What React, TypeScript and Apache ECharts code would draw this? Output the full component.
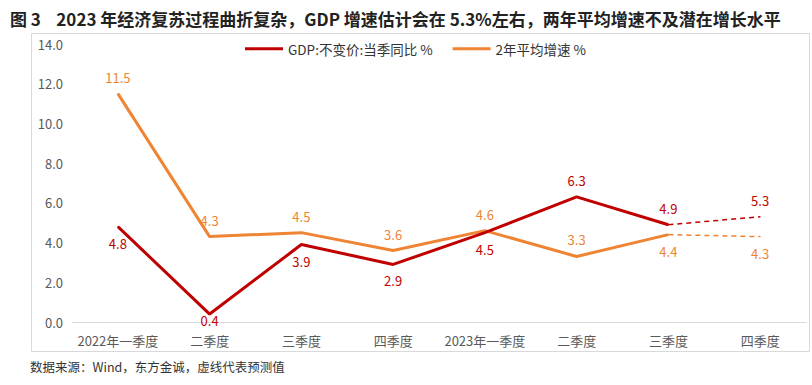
import React, { useEffect, useRef } from "react";
import * as echarts from "echarts";

const categories = ["2022年一季度", "二季度", "三季度", "四季度", "2023年一季度", "二季度", "三季度", "四季度"];
const gdpValues = [4.8, 0.4, 3.9, 2.9, 4.5, 6.3, 4.9, 5.3];
const avgValues = [11.5, 4.3, 4.5, 3.6, 4.6, 3.3, 4.4, 4.3];
const gdpLabelPos = ["bottom", "bottom", "bottom", "bottom", "bottom", "top", "top", "top"];
const avgLabelPos = ["top", "top", "top", "top", "top", "top", "bottom", "bottom"];
const yTicks = [0, 14, 2];

const RED = "#C00000";
const ORANGE = "#EE8434";
const FONT = "'Noto Sans CJK SC', 'Noto Sans', sans-serif";

function labelStyle(v: number, pos: string, color: string, show = true) {
  const low = v < 1;
  return {
    show,
    position: pos,
    color,
    fontSize: 13,
    lineHeight: low ? 12 : 16,
    distance: low ? 0 : 8,
  };
}

function solidPart(vals: number[], pos: string[], color: string) {
  return vals.map((v, i) => (i < vals.length - 1 ? { value: v, label: labelStyle(v, pos[i], color) } : null));
}
function dashPart(vals: number[], pos: string[], color: string) {
  return vals.map((v, i) =>
    i >= vals.length - 2 ? { value: v, label: labelStyle(v, pos[i], color, i === vals.length - 1) } : null
  );
}

export default function App() {
  const ref = useRef<HTMLDivElement>(null);
  useEffect(() => {
    if (!ref.current) return;
    const chart = echarts.init(ref.current, null, { renderer: "svg" });
    chart.setOption({
      animation: false,
      backgroundColor: "#ffffff",
      textStyle: { fontFamily: FONT },
      title: {
        text: "图 3    2023 年经济复苏过程曲折复杂，GDP 增速估计会在 5.3%左右，两年平均增速不及潜在增长水平",
        left: 5,
        top: 5,
        textStyle: { fontSize: 17, fontWeight: "bold", color: "#222", fontFamily: FONT },
      },
      graphic: [
        {
          type: "rect",
          shape: { x: 31.5, y: 33.5, width: 778, height: 318 },
          style: { fill: "none", stroke: "#d9d9d9", lineWidth: 1 },
          silent: true,
        },
        {
          type: "text",
          left: 30,
          top: 360,
          style: { text: "数据来源：Wind，东方金诚，虚线代表预测值", fontSize: 12.5, fill: "#333", fontFamily: FONT },
        },
      ],
      legend: {
        top: 37,
        left: 240,
        itemWidth: 38,
        itemHeight: 3,
        itemGap: 20,
        icon: "rect",
        data: ["GDP:不变价:当季同比 %", "2年平均增速 %"],
        textStyle: { fontSize: 13.5, color: "#333", fontFamily: FONT },
      },
      grid: { left: 72, right: 6, top: 44, bottom: 63 },
      xAxis: {
        type: "category",
        data: categories,
        boundaryGap: true,
        axisLine: { lineStyle: { color: "#d9d9d9", width: 1 } },
        axisTick: { show: false },
        axisLabel: { color: "#595959", fontSize: 13, margin: 11, lineHeight: 14, interval: 0 },
      },
      yAxis: {
        type: "value",
        min: yTicks[0],
        max: yTicks[1],
        interval: yTicks[2],
        axisLine: { show: false },
        axisTick: { show: false },
        splitLine: { show: false },
        axisLabel: { color: "#595959", fontSize: 13, margin: 9, formatter: (v: number) => v.toFixed(1) },
      },
      series: [
        {
          name: "GDP:不变价:当季同比 %",
          type: "line",
          data: solidPart(gdpValues, gdpLabelPos, RED),
          symbol: "circle",
          symbolSize: 1,
          itemStyle: { color: RED },
          lineStyle: { color: RED, width: 3 },
          z: 3,
        },
        {
          name: "GDP预测",
          type: "line",
          data: dashPart(gdpValues, gdpLabelPos, RED),
          symbol: "circle",
          symbolSize: 1,
          itemStyle: { color: RED },
          lineStyle: { color: RED, width: 1.5, type: [5, 4] },
          z: 3,
        },
        {
          name: "2年平均增速 %",
          type: "line",
          data: solidPart(avgValues, avgLabelPos, ORANGE),
          symbol: "circle",
          symbolSize: 1,
          itemStyle: { color: ORANGE },
          lineStyle: { color: ORANGE, width: 3 },
          z: 2,
        },
        {
          name: "平均预测",
          type: "line",
          data: dashPart(avgValues, avgLabelPos, ORANGE),
          symbol: "circle",
          symbolSize: 1,
          itemStyle: { color: ORANGE },
          lineStyle: { color: ORANGE, width: 1.5, type: [5, 4] },
          z: 2,
        },
      ],
    });
    return () => chart.dispose();
  }, []);
  return <div ref={ref} style={{ position: "fixed", left: 0, top: 0, width: 812, height: 385 }} />;
}
